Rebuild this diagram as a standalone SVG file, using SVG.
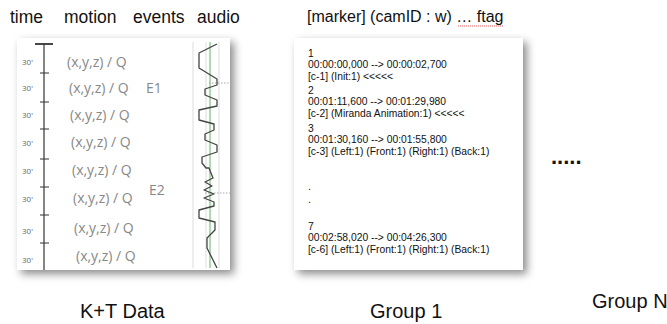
<svg xmlns="http://www.w3.org/2000/svg" width="667" height="324" viewBox="0 0 667 324">
<defs>
<filter id="sh" x="-10%" y="-10%" width="130%" height="130%">
<feDropShadow dx="4" dy="4" stdDeviation="4" flood-color="#000" flood-opacity="0.45"/>
</filter>
</defs>
<style>
.hdr{font-family:"Liberation Sans",Arial,sans-serif;font-size:16px;fill:#111}
.hdl{font-family:"Liberation Sans",Arial,sans-serif;font-size:17.5px;fill:#111}
.lbl{font-family:"Liberation Sans",Arial,sans-serif;font-size:20px;fill:#111}
.sec{font-family:"Open Sans","Liberation Sans",sans-serif;font-size:8px;fill:#666}
.mot{font-family:"Open Sans","Liberation Sans",sans-serif;font-size:14px;fill:#888}
.ev{font-family:"Open Sans","Liberation Sans",sans-serif;font-size:14px;fill:#888}
.srt{font-family:"Liberation Sans",Arial,sans-serif;font-size:10.3px;fill:#111}
.tick{stroke:#333;stroke-width:1}
</style>
<g id="headers">
<text class="hdl" x="10" y="23">time</text>
<text class="hdl" x="64" y="23">motion</text>
<text class="hdl" x="133" y="23">events</text>
<text class="hdl" x="197" y="23">audio</text>
<text class="hdr" x="307" y="22">[marker] (camID : w) … ftag</text>
<line x1="458" y1="26" x2="503" y2="26" stroke="#d33" stroke-width="0.8" stroke-dasharray="1,1"/>
</g>
<g id="kt-data">
<rect x="17" y="38" width="213" height="232" fill="#fff" filter="url(#sh)"/>
<line x1="44" y1="44" x2="44" y2="270" stroke="#333" stroke-width="1.2"/>
<line x1="35" y1="44" x2="53" y2="44" stroke="#333" stroke-width="1.8"/>
<g class="tick">
<line x1="40" y1="73" x2="49" y2="73"/>
<line x1="40" y1="102" x2="49" y2="102"/>
<line x1="40" y1="129" x2="49" y2="129"/>
<line x1="40" y1="159" x2="49" y2="159"/>
<line x1="40" y1="187" x2="49" y2="187"/>
<line x1="40" y1="215" x2="49" y2="215"/>
<line x1="40" y1="243" x2="49" y2="243"/>
</g>
<text class="sec" x="22" y="65">30'</text>
<text class="sec" x="22" y="91">30'</text>
<text class="sec" x="22" y="118">30'</text>
<text class="sec" x="22" y="146">30'</text>
<text class="sec" x="22" y="174">30'</text>
<text class="sec" x="22" y="202">30'</text>
<text class="sec" x="22" y="234">30'</text>
<text class="sec" x="22" y="263">30'</text>
<text class="mot" x="67" y="67">(x,y,z) / Q</text>
<text class="mot" x="69" y="93">(x,y,z) / Q</text>
<text class="mot" x="70" y="120">(x,y,z) / Q</text>
<text class="mot" x="71" y="147">(x,y,z) / Q</text>
<text class="mot" x="72" y="175">(x,y,z) / Q</text>
<text class="mot" x="73" y="203">(x,y,z) / Q</text>
<text class="mot" x="74" y="233">(x,y,z) / Q</text>
<text class="mot" x="76" y="261">(x,y,z) / Q</text>
<text class="ev" x="146" y="93">E1</text>
<text class="ev" x="149" y="195">E2</text>
<line x1="193" y1="42" x2="193" y2="268" stroke="#ddd" stroke-width="1"/>
<line x1="206" y1="42" x2="206" y2="268" stroke="#ddd" stroke-width="1"/>
<line x1="219" y1="42" x2="219" y2="268" stroke="#ddd" stroke-width="1"/>
<line x1="210" y1="42" x2="210" y2="268" stroke="#5cb85c" stroke-width="1"/>
<line x1="209" y1="83" x2="230" y2="83" stroke="#aaa" stroke-width="1" stroke-dasharray="1.5,1.5"/>
<line x1="205" y1="193" x2="230" y2="193" stroke="#aaa" stroke-width="1" stroke-dasharray="1.5,1.5"/>
<polyline fill="none" stroke="#444" stroke-width="1.3" stroke-linejoin="round" points="217,44 199,53 199,68 217,79 217,85 205,89 205,95 217,100 217,106 199,110 199,120 214,124 214,130 205,134 205,140 217,145 217,152 202,157 202,163 206,168 209,168 213,178 205,182 212,186 204,190 214,194 204,198 214,202 214,206 199,210 199,218 215,222 215,230 207,238 207,248 217,268"/>
</g>
<g id="group-1">
<rect x="294" y="38" width="229" height="232" fill="#fff" filter="url(#sh)"/>
<text class="srt" x="308" y="56.5">1</text>
<text class="srt" x="308" y="68.1">00:00:00,000 --&gt; 00:00:02,700</text>
<text class="srt" x="308" y="79.7">[c-1] (Init:1) &lt;&lt;&lt;&lt;&lt;</text>
<text class="srt" x="308" y="93.5">2</text>
<text class="srt" x="308" y="105.1">00:01:11,600 --&gt; 00:01:29,980</text>
<text class="srt" x="308" y="116.7">[c-2] (Miranda Animation:1) &lt;&lt;&lt;&lt;&lt;</text>
<text class="srt" x="308" y="131.5">3</text>
<text class="srt" x="308" y="143.1">00:01:30,160 --&gt; 00:01:55,800</text>
<text class="srt" x="308" y="154.7">[c-3] (Left:1) (Front:1) (Right:1) (Back:1)</text>
<text class="srt" x="308" y="190">.</text>
<text class="srt" x="308" y="203">.</text>
<text class="srt" x="308" y="229.5">7</text>
<text class="srt" x="308" y="241.1">00:02:58,020 --&gt; 00:04:26,300</text>
<text class="srt" x="308" y="252.7">[c-6] (Left:1) (Front:1) (Right:1) (Back:1)</text>
</g>
<g id="ellipsis">
<text x="551" y="164" font-family="Liberation Sans, Arial, sans-serif" font-size="22" font-weight="bold" fill="#111">.....</text>
</g>
<g id="labels">
<text class="lbl" x="80" y="318">K+T Data</text>
<text class="lbl" x="370" y="318">Group 1</text>
<text class="lbl" x="592" y="308">Group N</text>
</g>
</svg>
